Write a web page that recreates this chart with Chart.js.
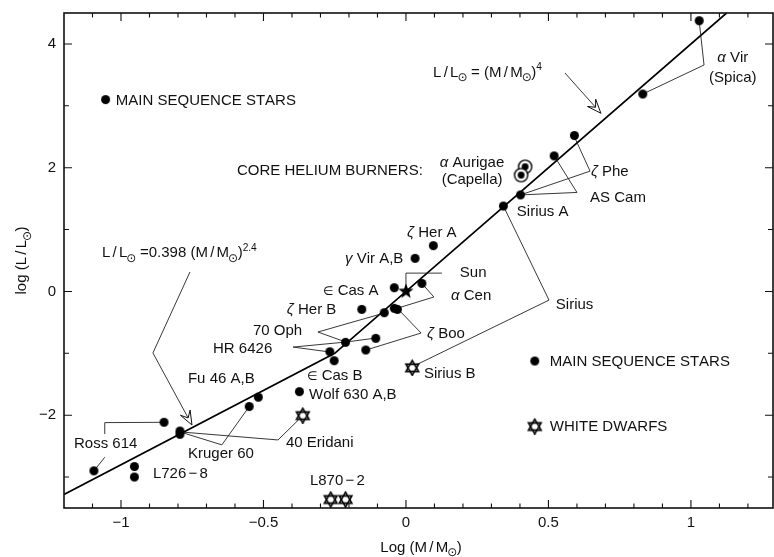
<!DOCTYPE html>
<html><head><meta charset="utf-8">
<script src="https://cdn.jsdelivr.net/npm/chart.js@4.4.1/dist/chart.umd.min.js"></script>
<style>html,body{margin:0;padding:0;background:#fff}#wrap{width:774px;height:557px}</style>
</head><body><div id="wrap"><canvas id="c" width="774" height="557"></canvas></div>
<script>
// ---------- axes ----------
const xTickValues = [-1, -0.5, 0, 0.5, 1];
const xTickLabels = ['−1', '−0.5', '0', '0.5', '1'];
const yTickValues = [-2, 0, 2, 4];
const yTickLabels = ['−2', '0', '2', '4'];
const xMinorTicks = [-1.1,-0.9,-0.8,-0.7,-0.6,-0.4,-0.3,-0.2,-0.1,0.1,0.2,0.3,0.4,0.6,0.7,0.8,0.9,1.1,1.2];
const yMinorTicks = [-3, -1, 1, 3];
const xTitle = 'Log (M|/|M_{⊙})';
const yTitle = 'log (L|/|L_{⊙})';

// ---------- data (log M, log L) ----------
const mainSeqX = [1.029,0.831,0.591,0.52,0.402,0.342,0.096,0.032,-0.041,0.056,-0.041,-0.030,-0.155,-0.076,-0.212,-0.106,-0.267,-0.141,-0.252,-0.374,-0.518,-0.55,-0.793,-0.793,-0.849,-1.095,-0.953,-0.953];
const mainSeqY = [4.375,3.19,2.52,2.19,1.56,1.38,0.74,0.535,0.06,0.13,-0.273,-0.29,-0.29,-0.344,-0.823,-0.758,-0.975,-0.947,-1.12,-1.62,-1.71,-1.86,-2.256,-2.31,-2.115,-2.90,-2.83,-3.0];
const whiteDwarfX = [0.022,-0.362,-0.264,-0.212];
const whiteDwarfY = [-1.227,-2.0,-3.355,-3.355];
const sunX = [0];
const sunY = [0];
const heliumX = [0.418,0.404];
const heliumY = [2.015,1.88];
const keyDotX = [-1.054,0.452];
const keyDotY = [3.10,-1.125];
const keyWdX = [0.452];
const keyWdY = [-2.175];

// mass-luminosity relation (piecewise)
const relationX = [-1.2,-0.25,1.125];
const relationY = [-3.28,-1.0,4.5];

// ---------- leader lines ----------
const leadAlphaVir = [[1.029,4.37],[1.046,3.66],[0.831,3.19]];
const leadZetaPhe  = [[0.59,2.51],[0.646,1.944],[0.402,1.56]];
const leadAsCam    = [[0.523,2.17],[0.60,1.60],[0.402,1.56]];
const leadSirius   = [[0.342,1.38],[0.502,-0.14],[0.03,-1.2]];
const leadSun      = [[0,0],[0,0.296],[0.126,0.296]];
const leadAlphaCen = [[0.056,0.13],[0.098,-0.09],[-0.039,-0.284]];
const leadZetaBoo  = [[-0.028,-0.284],[0.053,-0.672],[-0.14,-0.947]];
const lead70Oph    = [[-0.077,-0.35],[-0.309,-0.656],[-0.211,-0.818],[-0.105,-0.753]];
const leadHR6426a  = [[-0.396,-0.899],[-0.211,-0.818]];
const leadHR6426b  = [[-0.396,-0.899],[-0.267,-0.979]];
const leadKruger   = [[-0.793,-2.27],[-0.646,-2.48],[-0.55,-1.86]];
const leadEridani  = [[-0.793,-2.27],[-0.449,-2.40],[-0.378,-2.08]];
const leadRoss     = [[-1.095,-2.9],[-1.057,-2.68]];
const leadRossPair = [[-1.057,-2.305],[-1.057,-2.12],[-0.849,-2.115]];
const arrowPow4    = [[0.558,3.53],[0.684,2.88]];
const arrowPow24   = [[-0.758,0.314],[-0.888,-0.994],[-0.751,-2.158]];
const leaders = [leadAlphaVir,leadZetaPhe,leadAsCam,leadSirius,leadSun,leadAlphaCen,leadZetaBoo,lead70Oph,leadHR6426a,leadHR6426b,leadKruger,leadEridani,leadRoss,leadRossPair];
const arrows = [arrowPow4, arrowPow24];

// ---------- text labels: [text, x, y, align] ----------
const labels = [
  ['MAIN SEQUENCE STARS', -1.018, 3.093, 'left'],
  ['CORE HELIUM BURNERS:', -0.593, 1.963, 'left'],
  ['α Aurigae', 0.232, 2.091, 'center'],
  ['(Capella)', 0.232, 1.817, 'center'],
  ['L|/|L_{⊙} = (M|/|M_{⊙})^{4}', 0.095, 3.557, 'left'],
  ['L|/|L_{⊙} =0.398 (M|/|M_{⊙})^{2.4}', -1.067, 0.637, 'left'],
  ['ζ Her A', 0.004, 0.960, 'left'],
  ['γ Vir A,B', -0.214, 0.54, 'left'],
  ['Sun', 0.189, 0.314, 'left'],
  ['∈ Cas A', -0.291, 0.023, 'left'],
  ['α Cen', 0.158, -0.058, 'left'],
  ['ζ Her B', -0.418, -0.284, 'left'],
  ['70 Oph', -0.537, -0.624, 'left'],
  ['HR 6426', -0.677, -0.915, 'left'],
  ['ζ Boo', 0.074, -0.672, 'left'],
  ['Sirius', 0.526, -0.204, 'left'],
  ['Sirius A', 0.389, 1.299, 'left'],
  ['AS Cam', 0.646, 1.525, 'left'],
  ['ζ Phe', 0.649, 1.961, 'left'],
  ['α Vir', 1.147, 3.788, 'center'],
  ['(Spica)', 1.147, 3.48, 'center'],
  ['Sirius B', 0.063, -1.319, 'left'],
  ['∈ Cas B', -0.347, -1.351, 'left'],
  ['Wolf 630 A,B', -0.340, -1.658, 'left'],
  ['40 Eridani', -0.421, -2.434, 'left'],
  ['L870|−|2', -0.337, -3.048, 'left'],
  ['Fu 46 A,B', -0.765, -1.40, 'left'],
  ['Kruger 60', -0.765, -2.612, 'left'],
  ['Ross 614', -1.165, -2.45, 'left'],
  ['L726|−|8', -0.888, -2.935, 'left'],
  ['MAIN SEQUENCE STARS', 0.505, -1.125, 'left'],
  ['WHITE DWARFS', 0.505, -2.175, 'left']
];

// ---------- helpers ----------
const FONT = '"Liberation Sans","Arial","DejaVu Sans",sans-serif';
const GREEK = 'αζγ';
function parseRich(str){
  const out=[]; let mode='';
  for(let i=0;i<str.length;i++){
    const c=str[i];
    if((c==='_'||c==='^')&&str[i+1]==='{'){mode=c;i++;continue;}
    if(c==='}'&&mode){mode='';continue;}
    out.push({c,mode});
  }
  return out;
}
function charSize(ch,size){
  let s = ch.mode?size*0.68:size;
  if(ch.c==='⊙') s=size*0.8;
  if(ch.c==='∈') s*=0.8;
  return s;
}
function charFont(ch,size){
  const it = GREEK.includes(ch.c)?'italic ':'';
  const fam = (ch.c==='⊙'||ch.c==='∈') ? '"DejaVu Sans",sans-serif' : FONT;
  return it+charSize(ch,size)+'px '+fam;
}
function charW(ctx,ch,size){ if(ch.c==='|') return size*0.15; ctx.font=charFont(ch,size); return ctx.measureText(ch.c).width*(ch.c==='⊙'?0.85:1); }
function drawRich(ctx,str,x,yMid,size,align){
  const chars=parseRich(str);
  let w=0; for(const ch of chars) w+=charW(ctx,ch,size);
  let cx = align==='center'? x-w/2 : (align==='right'? x-w : x);
  const base = yMid + size*0.36;
  ctx.textAlign='left'; ctx.textBaseline='alphabetic'; ctx.fillStyle='#111';
  for(const ch of chars){
    const cw=charW(ctx,ch,size);
    if(ch.c!=='|'){
      ctx.font=charFont(ch,size);
      let dy=0; if(ch.mode==='_') dy=size*0.3; if(ch.mode==='^') dy=-size*0.42;
      ctx.fillText(ch.c,cx-(ch.c==='⊙'?1:0),base+dy);
    }
    cx+=cw;
  }
}

// ---------- marker images ----------
function mk(size,fn){const c=document.createElement('canvas');c.width=size;c.height=size;const g=c.getContext('2d');fn(g,size/2);return c;}
const dotImg = mk(11,(g,c)=>{ g.fillStyle='#000'; g.beginPath(); g.arc(c,c,4.5,0,2*Math.PI); g.fill(); });
const wdImg = mk(17,(g,c)=>{
  const R=7.3;
  function tri(a0){g.beginPath();for(let k=0;k<3;k++){const a=a0+k*2*Math.PI/3;const px=c+R*Math.cos(a),py=c+0.5+R*Math.sin(a);k?g.lineTo(px,py):g.moveTo(px,py);}g.closePath();}
  g.fillStyle='#fff'; tri(-Math.PI/2); g.fill(); tri(Math.PI/2); g.fill();
  g.strokeStyle='#000'; g.lineWidth=1.6; g.lineJoin='miter'; tri(-Math.PI/2); g.stroke(); tri(Math.PI/2); g.stroke();
});
const sunImg = mk(18,(g,c)=>{
  g.beginPath();
  for(let k=0;k<10;k++){const r=k%2?3.3:8;const a=-Math.PI/2+k*Math.PI/5;const px=c+r*Math.cos(a),py=c+r*Math.sin(a);k?g.lineTo(px,py):g.moveTo(px,py);}
  g.closePath(); g.fillStyle='#000'; g.fill();
});
const heImg = mk(17,(g,c)=>{
  g.fillStyle='#fff'; g.beginPath(); g.arc(c,c,6.6,0,2*Math.PI); g.fill();
  g.strokeStyle='#000'; g.lineWidth=1.4; g.stroke();
  g.fillStyle='#000'; g.beginPath(); g.arc(c,c,3.4,0,2*Math.PI); g.fill();
});

const pts=(xs,ys)=>xs.map((x,i)=>({x,y:ys[i]}));
const pairs=(a)=>a.map(p=>({x:p[0],y:p[1]}));
const imgPoint=(img,order)=>({pointStyle:img,pointRadius:0.5,pointBorderWidth:0,borderWidth:0,order});

const datasets = [];
datasets.push({data:pts(sunX,sunY),...imgPoint(sunImg,0)});
datasets.push({data:pts(whiteDwarfX,whiteDwarfY),...imgPoint(wdImg,0)});
datasets.push({data:pts(keyWdX,keyWdY),...imgPoint(wdImg,0)});
datasets.push({data:pts(heliumX,heliumY),...imgPoint(heImg,0)});
datasets.push({data:pts(mainSeqX,mainSeqY),...imgPoint(dotImg,1)});
datasets.push({data:pts(keyDotX,keyDotY),...imgPoint(dotImg,1)});
datasets.push({data:pts(relationX,relationY),showLine:true,pointRadius:0,borderColor:'#000',borderWidth:1.7,fill:false,order:5});
for(const l of leaders) datasets.push({data:pairs(l),showLine:true,pointRadius:0,borderColor:'#222',borderWidth:0.9,fill:false,order:4});
for(const a of arrows) datasets.push({data:pairs(a),showLine:true,pointRadius:0,borderColor:'#222',borderWidth:0.9,fill:false,order:4});

const decor = {
  id:'decor',
  afterDatasetsDraw(chart){
    const ctx=chart.ctx, xs=chart.scales.x, ys=chart.scales.y, a=chart.chartArea;
    ctx.save();
    // arrowheads
    for(let i=0;i<arrows.length;i++){
      const p=arrows[i], n=p.length;
      const x1=xs.getPixelForValue(p[n-2][0]), y1=ys.getPixelForValue(p[n-2][1]);
      const x2=xs.getPixelForValue(p[n-1][0]), y2=ys.getPixelForValue(p[n-1][1]);
      const d=Math.hypot(x2-x1,y2-y1), ux=(x2-x1)/d, uy=(y2-y1)/d, nx=-uy, ny=ux;
      const L=14,W=5.5,N=8;
      ctx.beginPath();
      ctx.moveTo(x2,y2);
      ctx.lineTo(x2-L*ux+W*nx,y2-L*uy+W*ny);
      ctx.lineTo(x2-N*ux,y2-N*uy);
      ctx.lineTo(x2-L*ux-W*nx,y2-L*uy-W*ny);
      ctx.closePath();
      ctx.fillStyle='#fff'; ctx.fill(); ctx.strokeStyle='#111'; ctx.lineWidth=1; ctx.stroke();
    }
    // frame
    ctx.strokeStyle='#111'; ctx.lineWidth=1.6;
    ctx.strokeRect(a.left,a.top,a.right-a.left,a.bottom-a.top);
    ctx.lineWidth=1.1;
    ctx.beginPath();
    const tk=(v,len,horiz)=>{
      if(horiz){const px=xs.getPixelForValue(v);ctx.moveTo(px,a.bottom);ctx.lineTo(px,a.bottom-len);ctx.moveTo(px,a.top);ctx.lineTo(px,a.top+len);}
      else{const py=ys.getPixelForValue(v);ctx.moveTo(a.left,py);ctx.lineTo(a.left+len,py);ctx.moveTo(a.right,py);ctx.lineTo(a.right-len,py);}
    };
    xTickValues.forEach(v=>tk(v,8,true));
    xMinorTicks.forEach(v=>tk(v,4.5,true));
    yTickValues.forEach(v=>tk(v,8,false));
    yMinorTicks.forEach(v=>tk(v,5,false));
    ctx.stroke();
    // text labels
    for(const [t,x,y,al] of labels) drawRich(ctx,t,xs.getPixelForValue(x),ys.getPixelForValue(y),15,al);
    // axis titles
    drawRich(ctx,xTitle,421,546.5,15,'center');
    ctx.save(); ctx.translate(21,(a.top+a.bottom)/2); ctx.rotate(-Math.PI/2);
    drawRich(ctx,yTitle,0,0,15,'center'); ctx.restore();
    ctx.restore();
  }
};

new Chart(document.getElementById('c').getContext('2d'),{
  type:'scatter',
  data:{datasets},
  options:{
    responsive:false, animation:false, events:[],
    layout:{autoPadding:false,padding:{top:13,right:1,left:0,bottom:0}},
    plugins:{legend:{display:false},tooltip:{enabled:false}},
    scales:{
      x:{type:'linear',min:-1.2,max:1.288,
        afterBuildTicks:(s)=>{s.ticks=xTickValues.map(v=>({value:v}));},
        afterFit:(s)=>{s.height=49;s.paddingLeft=0;s.paddingRight=0;},
        grid:{display:false,drawTicks:false},border:{display:false},
        ticks:{padding:6,autoSkip:false,maxRotation:0,color:'#111',font:{family:'Liberation Sans',size:15},callback:(v,i)=>xTickLabels[i]}},
      y:{type:'linear',min:-3.5,max:4.5,
        afterBuildTicks:(s)=>{s.ticks=yTickValues.map(v=>({value:v}));},
        afterFit:(s)=>{s.width=64;s.paddingTop=0;s.paddingBottom=0;},
        grid:{display:false,drawTicks:false},border:{display:false},
        ticks:{padding:8,autoSkip:false,color:'#111',font:{family:'Liberation Sans',size:15},callback:(v,i)=>yTickLabels[i]}}
    }
  },
  plugins:[decor]
});
</script></body></html>
